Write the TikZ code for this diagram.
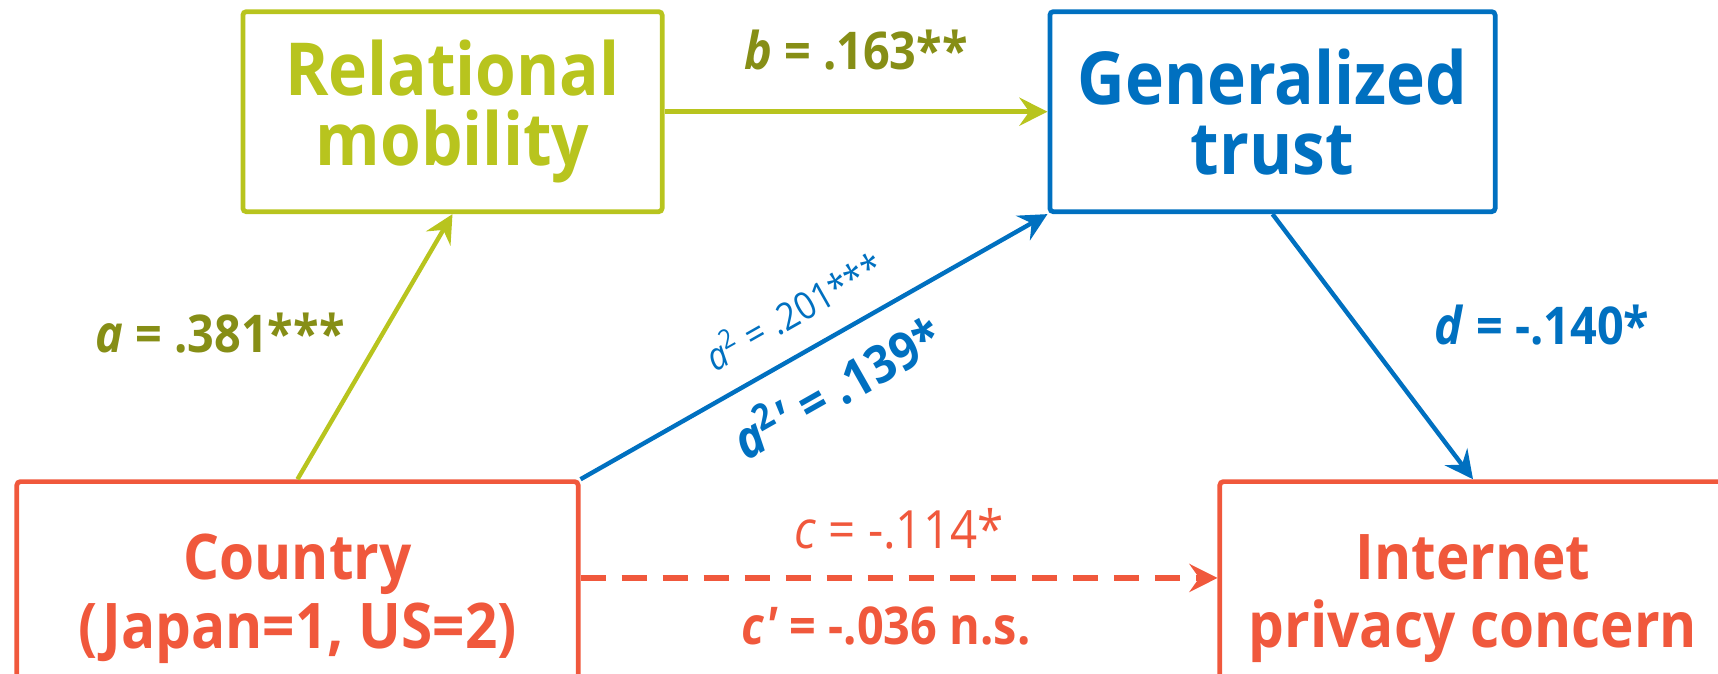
\documentclass[tikz,border=0pt]{standalone}
\usepackage{fontspec}
\usepackage{xcolor}
\usepackage{tikz}
\usetikzlibrary{positioning,arrows.meta,calc}
\newfontfamily\diagfont{Open Sans}[FakeStretch=0.9]
\definecolor{limeg}{HTML}{B8C41E}
\definecolor{oliveg}{HTML}{868E16}
\definecolor{trustblue}{HTML}{0070C0}
\definecolor{countryred}{HTML}{F0583C}

\begin{document}
\begin{tikzpicture}[
  x=0.01cm, y=-0.01cm,
  every node/.style={font=\diagfont},
  var/.style={draw, line width=1.35pt, rounded corners=1pt, align=center, inner sep=0pt},
  topvar/.style={var, minimum height=2cm, font=\diagfont\bfseries\fontsize{20.8}{19.9}\selectfont},
  botvar/.style={var, minimum height=2.34cm, font=\diagfont\bfseries\fontsize{17.9}{19.5}\selectfont},
  link/.style={line width=1.25pt, -{Stealth[length=8pt, width=8pt, inset=2.8pt]}},
  coef/.style={inner sep=0pt, font=\diagfont\bfseries\fontsize{14.8}{16}\selectfont},
  total/.style={inner sep=0pt, font=\diagfont\fontsize{15}{16}\selectfont},
]
\useasboundingbox (0,0) rectangle (1718,674);

% ---------------- variables ----------------
\node[topvar, draw=limeg, text=limeg, minimum width=4.19cm] (relmob) at (452.5,111.7) {Relational\\mobility};
\node[topvar, draw=trustblue, text=trustblue, minimum width=4.45cm] (gentrust) at (1272.5,111.7) {Generalized\\trust};
\node[botvar, draw=countryred, text=countryred, minimum width=5.61cm] (country) at (297.5,598.7) {Country\\(Japan=1, US=2)};
\node[botvar, draw=countryred, text=countryred, minimum width=5.06cm] (privacy) at (1473,598.7) {Internet\\privacy concern};

% ---------------- paths ----------------
\draw[link, limeg] (country.north) -- (relmob.south)
  node[coef, text=oliveg, pos=0.55, left=0.36cm] {\textit{a} = .381***};
\draw[link, limeg] (relmob.east) -- (gentrust.west)
  node[coef, text=oliveg, midway, above=0.39cm] {\textit{b} = .163**};
\draw[link, trustblue] (gentrust.south) -- (privacy.north)
  node[coef, text=trustblue, pos=0.42, right=0.76cm] {\textit{d} = -.140*};
\draw[link, trustblue] (country.north east) -- (gentrust.south west)
  node[midway, sloped, above=0.235cm, inner sep=0pt, text=trustblue, font=\diagfont\fontsize{10.8}{12}\selectfont] {\textit{a}\textsuperscript{2} = .201***}
  node[coef, midway, sloped, below=0.2cm, text=trustblue] {\textit{a}\textsuperscript{2}\textit{'} = .139*};

% direct effect, total above and controlled below
\draw[link, countryred, line width=1.9pt, dash pattern=on 0.25cm off 0.16cm]
  ([yshift=0.207cm]country.east) -- ([yshift=0.207cm]privacy.west)
  node[total, text=countryred, midway, above=0.25cm] {\textit{c} = -.114*}
  node[coef, text=countryred, midway, below=0.25cm, xshift=-0.13cm] {\textit{c'} = -.036 n.s.};
\end{tikzpicture}
\end{document}
